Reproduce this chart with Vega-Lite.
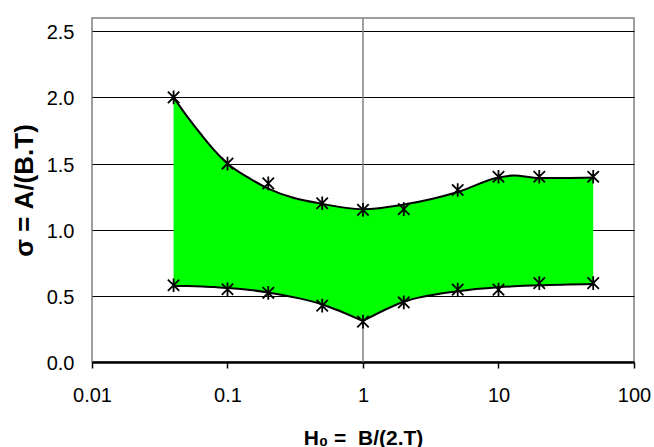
{
  "$schema": "https://vega.github.io/schema/vega-lite/v6.json",
  "autosize": {"type": "none"},
  "padding": {"left": 92, "top": 18, "right": 20, "bottom": 85},
  "width": 542,
  "height": 344,
  "background": "white",
  "config": {
    "font": "Liberation Sans",
    "view": {"stroke": "#808080", "strokeWidth": 1.5},
    "axis": {"labelFont": "Liberation Sans", "titleFont": "Liberation Sans, DejaVu Sans", "labelColor": "black", "titleColor": "black"}
  },
  "datasets": {
    "curve": [
      {"h": 0.04, "upper": 2.0, "lower": 0.575, "seg": "a"},
      {"h": 0.05, "upper": 1.86, "lower": 0.574, "seg": "a"},
      {"h": 0.065, "upper": 1.71, "lower": 0.571, "seg": "a"},
      {"h": 0.08, "upper": 1.6, "lower": 0.566, "seg": "a"},
      {"h": 0.1, "upper": 1.5, "lower": 0.56, "seg": "a"},
      {"h": 0.147, "upper": 1.385, "lower": 0.545, "seg": "a"},
      {"h": 0.2, "upper": 1.31, "lower": 0.525, "seg": "a"},
      {"h": 0.5, "upper": 1.195, "lower": 0.435, "seg": "a"},
      {"h": 1, "upper": 1.155, "lower": 0.31, "seg": "a"},
      {"h": 1, "upper": 1.155, "lower": 0.31, "seg": "b"},
      {"h": 2, "upper": 1.19, "lower": 0.455, "seg": "b"},
      {"h": 5, "upper": 1.285, "lower": 0.535, "seg": "b"},
      {"h": 10, "upper": 1.395, "lower": 0.565, "seg": "b"},
      {"h": 13, "upper": 1.41, "lower": 0.572, "seg": "b"},
      {"h": 20, "upper": 1.39, "lower": 0.58, "seg": "b"},
      {"h": 50, "upper": 1.395, "lower": 0.59, "seg": "b"}
    ],
    "points": [
      {"h": 0.04, "sigma": 2.0}, {"h": 0.1, "sigma": 1.5}, {"h": 0.2, "sigma": 1.35},
      {"h": 0.5, "sigma": 1.2}, {"h": 1, "sigma": 1.15}, {"h": 2, "sigma": 1.155},
      {"h": 5, "sigma": 1.3}, {"h": 10, "sigma": 1.4}, {"h": 20, "sigma": 1.4},
      {"h": 50, "sigma": 1.4},
      {"h": 0.04, "sigma": 0.58}, {"h": 0.1, "sigma": 0.55}, {"h": 0.2, "sigma": 0.523},
      {"h": 0.5, "sigma": 0.426}, {"h": 1, "sigma": 0.305}, {"h": 2, "sigma": 0.45},
      {"h": 5, "sigma": 0.547}, {"h": 10, "sigma": 0.547}, {"h": 20, "sigma": 0.596},
      {"h": 50, "sigma": 0.596}
    ],
    "ref": [{"h": 1}]
  },
  "layer": [
    {
      "data": {"name": "ref"},
      "mark": {"type": "rule", "color": "#808080", "strokeWidth": 1.5},
      "encoding": {
        "x": {
          "field": "h", "type": "quantitative",
          "scale": {"type": "log", "domain": [0.01, 100]},
          "axis": {
            "values": [0.01, 0.1, 1, 10, 100],
            "format": "~g",
            "grid": false,
            "labelFlush": false,
            "labelOverlap": false,
            "domainColor": "black",
            "domainWidth": 2.5,
            "tickColor": "black",
            "tickWidth": 1.5,
            "tickSize": 6,
            "labelFontSize": 20,
            "labelPadding": 17,
            "title": "H₀ =\u00a0\u00a0B/(2.T)",
            "titleFontSize": 21,
            "titleFontWeight": "bold",
            "titlePadding": 22
          }
        }
      }
    },
    {
      "data": {"name": "curve"},
      "mark": {"type": "area", "color": "#00FF00", "opacity": 1, "interpolate": "monotone"},
      "encoding": {
        "x": {"field": "h", "type": "quantitative"},
        "y": {
          "field": "upper", "type": "quantitative",
          "scale": {"domain": [0, 2.5]},
          "axis": {
            "values": [0, 0.5, 1, 1.5, 2, 2.5],
            "format": ".1f",
            "domain": false,
            "ticks": false,
            "grid": true,
            "gridColor": "black",
            "gridWidth": 1,
            "gridOpacity": 1,
            "labelFontSize": 20,
            "labelPadding": 18,
            "labelOffset": 1.5,
            "title": "σ = A/(B.T)",
            "titleFontSize": 26,
            "titleFontWeight": "bold",
            "titlePadding": 9
          }
        },
        "y2": {"field": "lower"},
        "detail": {"field": "seg"}
      }
    },
    {
      "data": {"name": "curve"},
      "transform": [{"filter": "datum.seg == 'a' || datum.h > 1"}],
      "mark": {"type": "line", "color": "black", "strokeWidth": 2, "interpolate": "monotone"},
      "encoding": {
        "x": {"field": "h", "type": "quantitative"},
        "y": {"field": "upper", "type": "quantitative"}
      }
    },
    {
      "data": {"name": "curve"},
      "mark": {"type": "line", "color": "black", "strokeWidth": 2, "interpolate": "monotone"},
      "encoding": {
        "x": {"field": "h", "type": "quantitative"},
        "y": {"field": "lower", "type": "quantitative"},
        "detail": {"field": "seg"}
      }
    },
    {
      "data": {"name": "points"},
      "mark": {"type": "point", "shape": "M-1,-1L1,1M-1,1L1,-1M0,-1.2L0,1.2", "filled": false, "stroke": "black", "strokeWidth": 1.8, "size": 130, "opacity": 1},
      "encoding": {
        "x": {"field": "h", "type": "quantitative"},
        "y": {"field": "sigma", "type": "quantitative"}
      }
    }
  ]
}
